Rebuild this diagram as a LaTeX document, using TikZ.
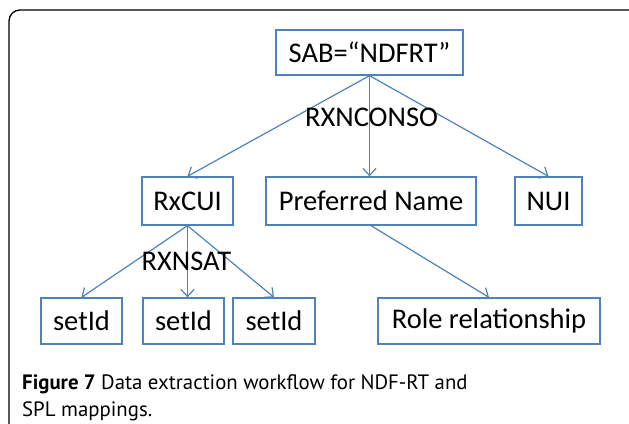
\documentclass[tikz,border=0pt]{standalone}
\usepackage{fontspec}
\setmainfont{Carlito}
\newfontfamily\capfont{PT Sans}
\usepackage{tikz}
\usetikzlibrary{arrows.meta}
\definecolor{boxblue}{RGB}{79,129,189}

\begin{document}
\begin{tikzpicture}[x=1pt, y=-1pt,
    box/.style={draw=boxblue, line width=1.3pt, inner sep=0pt,
      minimum height=46pt, font=\fontsize{28.5}{30}\selectfont},
    link/.style={draw=boxblue, line width=1.2pt,
      -{Straight Barb[length=7pt,width=13pt,line width=1.2pt]}},
    lbl/.style={inner sep=0pt, font=\fontsize{28.5}{30}\selectfont}]
  \useasboundingbox (0,0) rectangle (629,423);
  \begin{scope}
    \clip (0,0) rectangle (629,423);
    \draw[line width=1.3pt, rounded corners=11pt] (9,10) rectangle (650,450);
  \end{scope}

  \node (sab) [box, minimum width=187pt, minimum height=45pt] at (369.5,52.5) {SAB=“NDFRT”};
  \node (rx) [box, minimum width=91pt, minimum height=48pt] at (187.5,201) {RxCUI};
  \node (pref) [box, minimum width=210pt, minimum height=48pt] at (371,201) {Preferred Name};
  \node (nui) [box, minimum width=67pt, minimum height=48pt] at (548.5,201) {NUI};
  \node (s1) [box, minimum width=81pt] at (81.5,321) {setId};
  \node (s2) [box, minimum width=81pt] at (183.5,321) {setId};
  \node (s3) [box, minimum width=82pt] at (274,321) {setId};
  \node (role) [box, minimum width=222pt] at (489,321) {Role relationship};

  % links from the NDFRT source
  \draw[link] (sab.south) -- (rx.north);
  \draw[link] (sab.south) -- (sab.south |- pref.north);
  \draw[link] (sab.south) -- (nui.north);
  \node (conso) [lbl] at (371.5,117) {RXNCONSO};

  % links from RxCUI
  \draw[link] (rx.south) -- (s1.north);
  \draw[link] (rx.south) -- (rx.south |- s2.north);
  \draw[link] (rx.south) -- (s3.north);
  \node (sat) [lbl] at (186.5,261.5) {RXNSAT};

  \draw[link] (pref.south) -- (role.north);

  \node (cap) [anchor=north west, inner sep=0pt, align=left,
    font=\capfont\fontsize{20.8}{27}\selectfont] at (22,374)
    {\textbf{Figure 7} Data extraction workflow for NDF-RT and\\SPL mappings.};
\end{tikzpicture}
\end{document}
